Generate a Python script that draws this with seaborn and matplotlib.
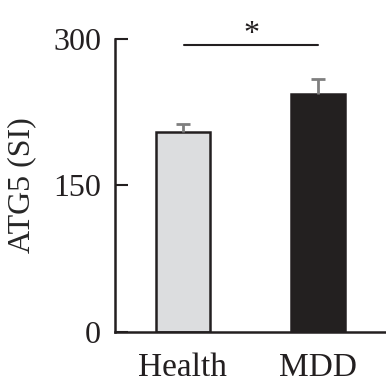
import pandas as pd
import matplotlib
matplotlib.use('Agg')
import matplotlib.pyplot as plt
import seaborn as sns

# Dữ liệu
groups = ['Health', 'MDD']
means = [205, 244]
errs = [8, 14.5]
bar_colors = ['#dcdddf', '#231f20']
yticks = [0, 150, 300]

df = pd.DataFrame({'group': groups, 'value': means})

sns.set_theme(style='white')
plt.rcParams['font.family'] = ['Liberation Serif', 'DejaVu Serif']

fig = plt.figure(figsize=(3.86, 3.89), dpi=100)
ax = fig.add_axes([0.298, 0.1465, 0.702, 0.7535])

sns.barplot(data=df, x='group', y='value', hue='group', palette=bar_colors,
            width=0.4, errorbar=None, legend=False, ax=ax,
            edgecolor='#231f20', linewidth=1.8)

# Error bars (chỉ phía trên)
_, caps, _ = ax.errorbar([0, 1], means, yerr=[[0, 0], errs], fmt='none',
                         ecolor='#7f7f7f', elinewidth=2, capsize=5,
                         capthick=2, zorder=3)
caps[0].set_visible(False)

ax.set_xlim(-0.5, 1.5)
ax.set_ylim(0, 300)
ax.set_yticks(yticks)
ax.set_xlabel('')
ax.set_ylabel('ATG5 (SI)', fontsize=23, labelpad=12)
ax.tick_params(axis='y', direction='in', length=9, width=1.5, pad=10,
               labelsize=23, colors='#231f20', left=True)
ax.tick_params(axis='x', length=0, pad=15, labelsize=24, colors='#231f20')

sns.despine(ax=ax)
for s in ['left', 'bottom']:
    ax.spines[s].set_linewidth(1.8)
    ax.spines[s].set_color('#231f20')

# Ký hiệu ý nghĩa thống kê
ax.plot([0.01, 1.0], [294, 294], color='#231f20', lw=1.5, clip_on=False)
ax.text(0.51, 290, '*', ha='center', va='bottom', fontsize=23,
        color='#231f20', clip_on=False)

fig.savefig('out.png', dpi=100)
